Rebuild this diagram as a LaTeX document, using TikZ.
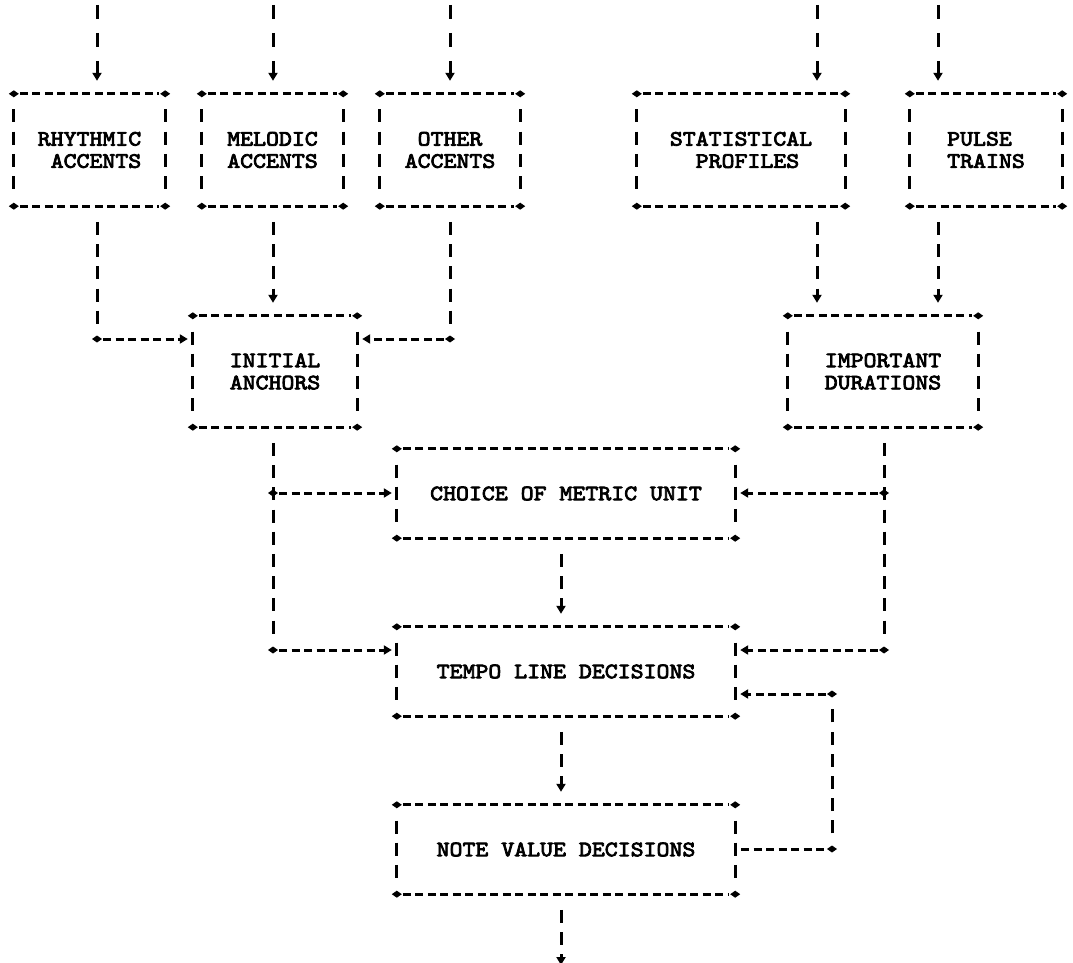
\documentclass[tikz,border=0pt]{standalone}
\usepackage{fontspec}
\usetikzlibrary{arrows.meta}
\newfontfamily\dotfont{lmmono10-regular.otf}[FakeBold=3.5, FakeStretch=1.12]
\newcommand{\boxfont}{\dotfont\fontsize{22}{22.2}\selectfont}
\newcommand{\blnk}{\hphantom{X}}
\newcommand{\plusat}[1]{\fill (#1) +(-5pt,0) -- +(0,3.5pt) -- +(5pt,0) -- +(0,-3.5pt) -- cycle;}
\newcommand{\asciibox}[1]{%
  \draw[hline] (#1.north west) -- (#1.north east);
  \draw[hline] (#1.south west) -- (#1.south east);
  \draw[vline] (#1.north west) -- (#1.south west);
  \draw[vline] (#1.north east) -- (#1.south east);
  \plusat{#1.north west}\plusat{#1.north east}%
  \plusat{#1.south west}\plusat{#1.south east}}
\tikzset{
  ln/.style={line width=3pt, draw=black},
  hline/.style={ln, dash pattern=on 8pt off 4.5pt, shorten <=6pt, shorten >=6pt},
  vline/.style={ln, dash pattern=on 13pt off 9.2pt, dash phase=14.5pt, shorten <=8pt, shorten >=8pt},
  arr/.style={-{Triangle[length=8pt,width=9pt]}},
  intop/.style={ln, dash pattern=on 14pt off 14pt, shorten >=13pt},
  abox/.style={inner sep=0pt, font=\boxfont, align=center},
}
\begin{document}
\begin{tikzpicture}[x=1pt, y=-1pt]
\fill[white] (0,0) rectangle (1073,963);
\useasboundingbox (0,0) rectangle (1073,963);
\clip (0,0) rectangle (1073,963);

% boxes
\node[abox, minimum width=151pt, minimum height=112pt] (rhy) at (89.5,150) {RHYTHMIC\\\blnk ACCENTS};
\node[abox, minimum width=141pt, minimum height=112pt] (mel) at (272.5,150) {MELODIC\\ACCENTS};
\node[abox, minimum width=140pt, minimum height=112pt] (oth) at (450,150) {OTHER\\ACCENTS};
\node[abox, minimum width=208pt, minimum height=112pt] (sta) at (741,150) {STATISTICAL\\\blnk\blnk PROFILES\blnk};
\node[abox, minimum width=152pt, minimum height=112pt] (pul) at (986,150) {PULSE\blnk\\TRAINS};
\node[abox, minimum width=164pt, minimum height=111pt] (ini) at (275,371.5) {INITIAL\\ANCHORS};
\node[abox, minimum width=190pt, minimum height=111pt] (imp) at (883,371.5) {IMPORTANT\\DURATIONS};
\node[abox, minimum width=338pt, minimum height=89pt] (cho) at (566,493.5) {CHOICE OF METRIC UNIT};
\node[abox, minimum width=338pt, minimum height=89pt] (tem) at (566,671.5) {TEMPO LINE DECISIONS};
\node[abox, minimum width=338pt, minimum height=89pt] (not) at (566,849.5) {NOTE VALUE DECISIONS};

\asciibox{rhy}\asciibox{mel}\asciibox{oth}\asciibox{sta}\asciibox{pul}
\asciibox{ini}\asciibox{imp}\asciibox{cho}\asciibox{tem}\asciibox{not}

% helper coordinates
\coordinate (xa) at (97,0);
\coordinate (xm) at (273,0);
\coordinate (xo) at (450,0);
\coordinate (xs) at (817,0);
\coordinate (xp) at (938,0);
\coordinate (xr) at (884,0);
\coordinate (xc) at (561,0);
\coordinate (xf) at (832,0);
\coordinate (ya) at (0,339);
\coordinate (yb) at (0,493);
\coordinate (yc) at (0,650);
\coordinate (yd) at (0,694);
\coordinate (ye) at (0,849);

% incoming arrows
\coordinate (ia) at (97,5);
\coordinate (ib) at (273,5);
\coordinate (ic) at (450,5);
\coordinate (id) at (817,5);
\coordinate (ie) at (938,5);
\draw[intop,arr] (ia) -- (ia |- rhy.north);
\draw[intop,arr] (ib) -- (ib |- mel.north);
\draw[intop,arr] (ic) -- (ic |- oth.north);
\draw[intop,arr] (id) -- (id |- sta.north);
\draw[intop,arr] (ie) -- (ie |- pul.north);

% accents -> initial anchors
\draw[vline] (rhy.south -| xa) -- (xa |- ya);
\draw[hline,arr,shorten >=5pt] (xa |- ya) -- (ini.west |- ya);
\plusat{xa |- ya}
\draw[vline,arr,shorten >=13pt] (mel.south -| xm) -- (ini.north -| xm);
\draw[vline] (oth.south -| xo) -- (xo |- ya);
\draw[hline,arr,shorten >=5pt] (xo |- ya) -- (ini.east |- ya);
\plusat{xo |- ya}

% profiles, pulse -> important durations
\draw[vline,arr,shorten >=13pt] (sta.south -| xs) -- (imp.north -| xs);
\draw[vline,arr,shorten >=13pt] (pul.south -| xp) -- (imp.north -| xp);

% initial anchors -> choice, tempo
\draw[vline] (ini.south -| xm) -- (xm |- yc);
\draw[hline,arr,shorten >=5pt] (xm |- yb) -- (cho.west |- yb);
\draw[hline,arr,shorten >=5pt] (xm |- yc) -- (tem.west |- yc);
\plusat{xm |- yb}\plusat{xm |- yc}

% important durations -> choice, tempo
\draw[vline] (imp.south -| xr) -- (xr |- yc);
\draw[hline,arr,shorten >=5pt] (xr |- yb) -- (cho.east |- yb);
\draw[hline,arr,shorten >=5pt] (xr |- yc) -- (tem.east |- yc);
\plusat{xr |- yb}\plusat{xr |- yc}

% main chain
\draw[vline,arr,shorten >=13pt] (cho.south -| xc) -- (tem.north -| xc);
\draw[vline,arr,shorten >=13pt] (tem.south -| xc) -- (not.north -| xc);

% feedback
\draw[hline] (not.east |- ye) -- (xf |- ye);
\draw[vline] (xf |- ye) -- (xf |- yd);
\draw[hline,arr,shorten >=5pt] (xf |- yd) -- (tem.east |- yd);
\plusat{xf |- ye}\plusat{xf |- yd}

% output
\coordinate (out) at (561,965);
\draw[vline,arr,shorten >=0pt] (not.south -| xc) -- (out);
\end{tikzpicture}
\end{document}
